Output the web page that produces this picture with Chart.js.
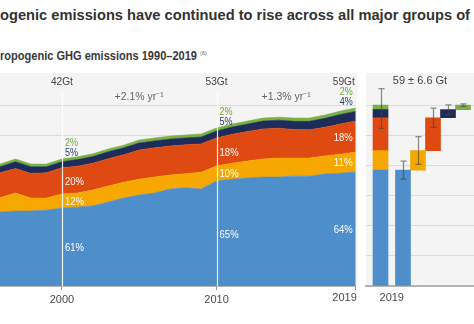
<!DOCTYPE html>
<html>
<head>
<meta charset="utf-8">
<script src="https://cdn.jsdelivr.net/npm/chart.js@4.4.1/dist/chart.umd.min.js"></script>
<style>
  body { margin: 0; width: 474px; height: 324px; overflow: hidden; background: #fff; position: relative; }
  canvas { position: absolute; left: 0; top: 0; }
  .head { position: absolute; left: 0; white-space: nowrap; font-family: 'Liberation Sans', sans-serif; font-weight: bold; color: #333; transform-origin: 0 0; }
  #title { top: 7px; font-size: 15.5px; line-height: 16px; }
  #sub { top: 47px; font-size: 12px; line-height: 13px; color: #3a3a3a; }
  #sub sup { font-size: 6px; font-weight: normal; color: #666; vertical-align: 5px; }
</style>
</head>
<body>
<div id="title" class="head">ogenic emissions have continued to rise across all major groups of</div>
<div id="sub" class="head">ropogenic GHG emissions 1990–2019 <sup>(6)</sup></div>
<canvas id="left" width="474" height="324"></canvas>
<canvas id="right" width="474" height="324"></canvas>
<script>
// annual emissions, GtCO2-eq (left part of the series is outside the crop)
const years = [1996, 1997, 1998, 1999, 2000, 2001, 2002, 2003, 2004, 2005, 2006, 2007,
               2008, 2009, 2010, 2011, 2012, 2013, 2014, 2015, 2016, 2017, 2018, 2019];
const co2Ffi    = [24.6, 24.9, 24.9, 25.2, 25.9, 26.2, 26.6, 27.9, 29.2, 30.2, 30.9, 32.2,
                   32.6, 32.2, 34.9, 35.5, 35.9, 36.2, 36.2, 36.5, 36.5, 37.2, 37.5, 37.9];
const co2Lulucf = [4.7, 6.0, 4.3, 4.0, 4.7, 4.7, 5.3, 5.3, 5.3, 5.3, 5.3, 4.7,
                   4.7, 5.6, 5.0, 5.3, 5.6, 6.0, 6.3, 6.0, 6.0, 6.0, 6.3, 6.6];
const ch4       = [8.3, 8.1, 8.2, 8.4, 8.7, 8.9, 8.9, 9.1, 9.1, 9.7, 9.7, 9.6,
                   9.6, 9.4, 9.3, 9.6, 9.8, 10.0, 9.9, 9.5, 9.4, 9.5, 10.0, 10.3];
const n2o       = [2.0, 2.3, 2.2, 2.0, 2.0, 2.2, 2.2, 2.3, 2.3, 2.3, 2.3, 2.3,
                   2.3, 2.3, 2.3, 2.4, 2.5, 2.6, 2.7, 2.7, 2.8, 3.0, 3.2, 3.2];
const fGases    = [0.9, 0.9, 0.9, 0.9, 0.9, 0.9, 0.9, 0.9, 0.9, 1.0, 1.0, 1.0,
                   1.0, 1.0, 1.0, 1.0, 1.0, 1.0, 1.0, 1.1, 1.1, 1.1, 1.1, 1.1];

const gasNames = ['CO2-FFI', 'CO2-LULUCF', 'CH4', 'N2O', 'F-gases'];
const markYears = [2000, 2010, 2019];
const totalLabels = ['42Gt', '53Gt', '59Gt'];
const shareLabels = [
  ['61%', '12%', '20%', '5%', '2%'],
  ['65%', '10%', '18%', '5%', '2%'],
  ['64%', '11%', '18%', '4%', '2%']
];
const rateLabels = ['+2.1% yr\u207B\u00B9', '+1.3% yr\u207B\u00B9'];

// 2019 breakdown with uncertainty (right panel)
const gas2019 = [38.5, 6.5, 10.9, 2.7, 1.5];
const gasUnc2019 = [3.0, 4.6, 3.2, 1.6, 0.4];
const total2019 = 59;
const totalUnc2019 = 6.6;
const panelTitle = '59 \u00B1 6.6 Gt';
const barLabel = '2019';

const gasColors = ['#4e8ecb', '#f6a800', '#df4a12', '#1e2c5a', '#79b243'];
const fontFam = "'Liberation Sans', sans-serif";
Chart.defaults.font.family = fontFam;
Chart.defaults.animation = false;

function fitWidth(id, w) {
  const el = document.getElementById(id);
  el.style.transform = 'scaleX(' + (w / el.scrollWidth) + ')';
}
fitWidth('title', 470);
fitWidth('sub', 207);

const panelBg = {
  id: 'panelBg',
  beforeDraw(chart) {
    const { ctx, chartArea: a } = chart;
    ctx.save();
    ctx.fillStyle = '#f4f4f4';
    ctx.fillRect(a.left, 73, a.right - a.left + 1.5, a.bottom - 73);
    ctx.restore();
  }
};

const leftLabels = {
  id: 'leftLabels',
  afterDatasetsDraw(chart) {
    const { ctx, scales: { x, y } } = chart;
    ctx.save();
    // white year markers
    ctx.strokeStyle = 'rgba(255,255,255,0.9)';
    ctx.lineWidth = 1.2;
    [markYears[0], markYears[1]].forEach(yr => {
      const px = Math.round(x.getPixelForValue(yr)) + 0.5;
      ctx.beginPath();
      ctx.moveTo(px, 92);
      ctx.lineTo(px, y.bottom);
      ctx.stroke();
    });
    const series = [co2Ffi, co2Lulucf, ch4, n2o, fGases];
    ctx.textBaseline = 'middle';
    markYears.forEach((yr, k) => {
      const i = years.indexOf(yr);
      const px = x.getPixelForValue(yr);
      const last = k === markYears.length - 1;
      ctx.textAlign = last ? 'right' : 'left';
      const tx = last ? px - 3 : px + 3;
      let base = 0;
      const tops = series.map(s => (base += s[i]));
      ctx.font = '11px ' + fontFam;
      for (let g = 0; g < 3; g++) {
        const lo = g === 0 ? 0 : tops[g - 1];
        ctx.fillStyle = '#ffffff';
        ctx.fillText(shareLabels[k][g], tx, y.getPixelForValue((lo + tops[g]) / 2) + 1, 19);
      }
      const topPx = y.getPixelForValue(tops[4]);
      ctx.fillStyle = '#2f3d6b';
      ctx.fillText(shareLabels[k][3], tx, topPx - 6, 13);
      ctx.fillStyle = '#6aaa3a';
      ctx.fillText(shareLabels[k][4], tx, topPx - 16.5, 13);
      ctx.fillStyle = '#444';
      ctx.textAlign = last ? 'right' : 'center';
      ctx.fillText(totalLabels[k], last ? px - 1 : px, 82, 22);
    });
    ctx.fillStyle = '#666';
    ctx.textAlign = 'center';
    ctx.font = '10.5px ' + fontFam;
    for (let k = 0; k < 2; k++) {
      const mid = (markYears[k] + markYears[k + 1]) / 2;
      ctx.fillText(rateLabels[k], x.getPixelForValue(mid), 97);
    }
    // last tick label sits flush with the panel edge
    const lastYr = markYears[markYears.length - 1];
    ctx.fillStyle = '#4a4a4a';
    ctx.textAlign = 'right';
    ctx.font = '11px ' + fontFam;
    ctx.fillText(String(lastYr), x.getPixelForValue(lastYr) + 1, 298);
    ctx.restore();
  }
};

new Chart(document.getElementById('left'), {
  type: 'line',
  data: {
    datasets: [co2Ffi, co2Lulucf, ch4, n2o, fGases].map((s, i) => ({
      label: gasNames[i],
      data: years.map((yr, j) => ({ x: yr, y: s[j] })),
      fill: i === 0 ? 'origin' : '-1',
      backgroundColor: gasColors[i],
      borderColor: gasColors[i],
      borderWidth: 0.6,
      pointRadius: 0,
      tension: 0
    }))
  },
  options: {
    responsive: false,
    layout: { padding: { left: 0, right: 474 - 355.8, top: 75.3, bottom: 0 } },
    plugins: { legend: { display: false }, tooltip: { enabled: false } },
    scales: {
      x: {
        type: 'linear', min: years[0], max: years[years.length - 1],
        afterBuildTicks: s => { s.ticks = markYears.map(v => ({ value: v })); },
        afterFit: s => { s.height = 38; },
        ticks: {
          color: '#4a4a4a', font: { size: 11 }, padding: 3, maxRotation: 0,
          callback: v => (v === markYears[markYears.length - 1] ? '' : String(v))
        },
        grid: { drawOnChartArea: false, color: '#9a9a9a', tickLength: 4 },
        border: { color: '#b4b4b4', width: 2 }
      },
      y: {
        stacked: true, min: 0, max: 70,
        ticks: { display: false, stepSize: 10 },
        afterFit: s => { s.width = 0; },
        grid: { drawTicks: false, color: c => (c.tick.value === 0 || c.tick.value === 70) ? 'rgba(0,0,0,0)' : '#dcdcdc' },
        border: { display: false }
      }
    }
  },
  plugins: [panelBg, leftLabels]
});

// right panel: stacked 2019 bar, then each gas as a floating step
const stackX = 0;
const stepX = [1.5, 2.5, 3.5, 4.5, 5.5];
const lows = [];
gas2019.reduce((acc, v) => { lows.push(acc); return acc + v; }, 0);

const errorBars = {
  id: 'errorBars',
  afterDatasetsDraw(chart) {
    const { ctx, scales: { x, y }, chartArea: a } = chart;
    ctx.save();
    ctx.strokeStyle = 'rgba(70,70,70,0.62)';
    ctx.lineWidth = 1.3;
    const items = [{ pos: stackX, c: total2019, e: totalUnc2019 }];
    gas2019.forEach((v, i) => items.push({ pos: stepX[i], c: lows[i] + v, e: gasUnc2019[i] }));
    items.forEach(it => {
      const px = Math.round(x.getPixelForValue(it.pos)) + 0.5;
      const y1 = y.getPixelForValue(it.c + it.e);
      const y2 = y.getPixelForValue(it.c - it.e);
      ctx.beginPath();
      ctx.moveTo(px, y1); ctx.lineTo(px, y2);
      ctx.moveTo(px - 3, y1); ctx.lineTo(px + 3, y1);
      ctx.moveTo(px - 3, y2); ctx.lineTo(px + 3, y2);
      ctx.stroke();
    });
    ctx.fillStyle = '#444';
    ctx.textAlign = 'center';
    ctx.textBaseline = 'middle';
    ctx.font = '11px ' + fontFam;
    ctx.fillText(panelTitle, (a.left + a.right) / 2, 81);
    ctx.fillStyle = '#4a4a4a';
    ctx.fillText(barLabel, x.getPixelForValue((stackX + stepX[0]) / 2), 298);
    ctx.restore();
  }
};

new Chart(document.getElementById('right'), {
  type: 'bar',
  data: {
    datasets: gas2019.map((v, i) => ({
      label: gasNames[i],
      data: [
        { x: stackX, y: [lows[i], lows[i] + v] },
        { x: stepX[i], y: [lows[i], lows[i] + v] }
      ],
      backgroundColor: gasColors[i],
      borderWidth: 0,
      barThickness: 15,
      grouped: false
    }))
  },
  options: {
    responsive: false,
    layout: { padding: { left: 366, right: 0, top: 75.3, bottom: 0 } },
    plugins: { legend: { display: false }, tooltip: { enabled: false } },
    scales: {
      x: {
        type: 'linear', min: -0.967, max: 6.233, offset: false,
        afterFit: s => { s.height = 38; },
        ticks: { display: false },
        grid: { display: false },
        border: { color: '#b4b4b4', width: 2 }
      },
      y: {
        min: 0, max: 70,
        ticks: { display: false, stepSize: 10 },
        afterFit: s => { s.width = 0; },
        grid: { drawTicks: false, color: c => (c.tick.value === 0 || c.tick.value === 70) ? 'rgba(0,0,0,0)' : '#dcdcdc' },
        border: { display: false }
      }
    }
  },
  plugins: [panelBg, errorBars]
});
</script>
</body>
</html>
